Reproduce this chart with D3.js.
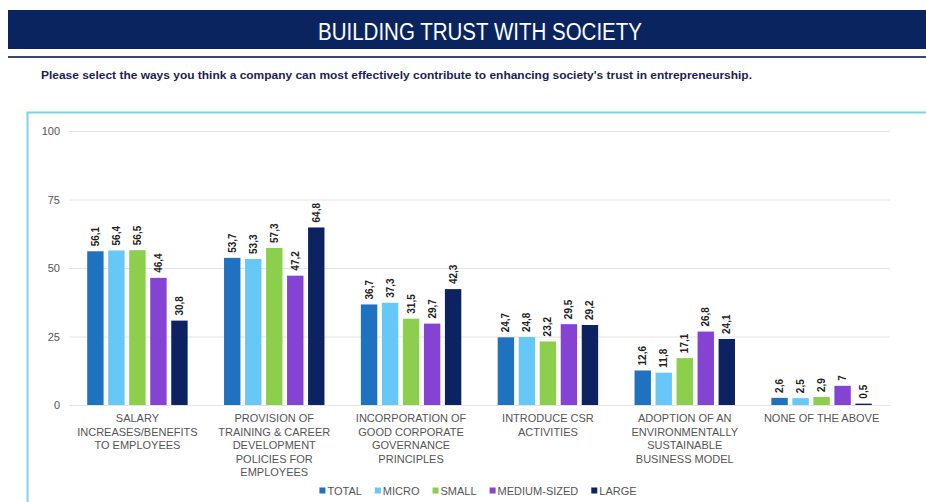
<!DOCTYPE html>
<html>
<head>
<meta charset="utf-8">
<script src="https://cdn.jsdelivr.net/npm/d3@7/dist/d3.min.js"></script>
<style>
  html, body { margin: 0; padding: 0; background: #ffffff; }
  svg { display: block; font-family: "Liberation Sans", Arial, sans-serif; }
</style>
</head>
<body>
<svg id="chart" width="926" height="502"></svg>
<script>
// Answer options (x-axis groups), one label line per array entry
const categories = [
  ["SALARY", "INCREASES/BENEFITS", "TO EMPLOYEES"],
  ["PROVISION OF", "TRAINING & CAREER", "DEVELOPMENT", "POLICIES FOR", "EMPLOYEES"],
  ["INCORPORATION OF", "GOOD CORPORATE", "GOVERNANCE", "PRINCIPLES"],
  ["INTRODUCE CSR", "ACTIVITIES"],
  ["ADOPTION OF AN", "ENVIRONMENTALLY", "SUSTAINABLE", "BUSINESS MODEL"],
  ["NONE OF THE ABOVE"]
];

// Company-size series
const seriesNames = ["TOTAL", "MICRO", "SMALL", "MEDIUM-SIZED", "LARGE"];
const seriesColors = ["#1f72bf", "#66c8f6", "#8ccf4d", "#8543d3", "#0d2260"];

// Share of respondents (%) per series, in category order
const totalValues  = [56.1, 53.7, 36.7, 24.7, 12.6, 2.6];
const microValues  = [56.4, 53.3, 37.3, 24.8, 11.8, 2.5];
const smallValues  = [56.5, 57.3, 31.5, 23.2, 17.1, 2.9];
const mediumValues = [46.4, 47.2, 29.7, 29.5, 26.8, 7];
const largeValues  = [30.8, 64.8, 42.3, 29.2, 24.1, 0.5];
const seriesValues = [totalValues, microValues, smallValues, mediumValues, largeValues];

const yTicks = [0, 25, 50, 75, 100];

const titleText = "BUILDING TRUST WITH SOCIETY";
const questionText = "Please select the ways you think a company can most effectively contribute to enhancing society's trust in entrepreneurship.";

const svg = d3.select("#chart");

// Header band
svg.append("rect").attr("x", 8).attr("y", 10).attr("width", 918).attr("height", 39).attr("fill", "#0a245f");
svg.append("text")
  .attr("x", 480).attr("y", 40)
  .attr("text-anchor", "middle")
  .attr("fill", "#ffffff")
  .attr("font-size", 23)
  .attr("font-family", "'Liberation Sans Narrow', 'Arial Narrow', 'Liberation Sans', sans-serif")
  .attr("textLength", 324).attr("lengthAdjust", "spacingAndGlyphs")
  .text(titleText);

// Separator rule under the header
svg.append("rect").attr("x", 8).attr("y", 56).attr("width", 918).attr("height", 2).attr("fill", "#3b4866");

// Question line
svg.append("text")
  .attr("x", 41).attr("y", 79)
  .attr("fill", "#1b1f55")
  .attr("font-size", 11)
  .attr("font-weight", "bold")
  .attr("textLength", 711).attr("lengthAdjust", "spacingAndGlyphs")
  .text(questionText);

// Chart frame (runs off the right and bottom edges)
svg.append("path")
  .attr("d", "M27.5,502 L27.5,112.5 L926,112.5")
  .attr("fill", "none").attr("stroke", "#7fd3e6").attr("stroke-width", 2);

// Scales
const plotLeft = 69, plotRight = 890;
const y = d3.scaleLinear().domain([0, 100]).range([405, 131]);
const x0 = d3.scaleBand()
  .domain(d3.range(categories.length))
  .range([plotLeft, plotRight])
  .paddingInner(0.266).paddingOuter(0.133);
const x1 = d3.scaleBand()
  .domain(d3.range(seriesNames.length))
  .range([0, x0.bandwidth()])
  .paddingInner(0.22).paddingOuter(0);

// Y axis with gridlines
const yAxis = d3.axisLeft(y).tickValues(yTicks).tickSize(-(plotRight - plotLeft)).tickPadding(9);
const gy = svg.append("g").attr("transform", `translate(${plotLeft},0)`).call(yAxis);
gy.select(".domain").remove();
gy.selectAll(".tick line").attr("stroke", "#e4e4e4").attr("stroke-width", 1);
gy.selectAll(".tick text")
  .attr("fill", "#555555").attr("font-size", 11)
  .attr("font-family", "'Liberation Sans', Arial, sans-serif");

// Bars
const groups = svg.append("g").selectAll("g")
  .data(categories.map((c, i) => i))
  .join("g")
  .attr("transform", i => `translate(${x0(i)},0)`);

const fmt = v => String(v).replace(".", ",");

groups.selectAll("rect")
  .data(i => seriesValues.map((vals, s) => ({ s, v: vals[i] })))
  .join("rect")
  .attr("x", d => x1(d.s))
  .attr("y", d => y(d.v))
  .attr("width", x1.bandwidth())
  .attr("height", d => y(0) - y(d.v))
  .attr("fill", d => seriesColors[d.s]);

// Rotated value labels above each bar
groups.selectAll("text.val")
  .data(i => seriesValues.map((vals, s) => ({ s, v: vals[i] })))
  .join("text")
  .attr("class", "val")
  .attr("transform", d => `translate(${x1(d.s) + x1.bandwidth() / 2 + 3.5},${y(d.v) - 5}) rotate(-90)`)
  .attr("fill", "#222222")
  .attr("font-size", 10)
  .attr("font-weight", "bold")
  .text(d => fmt(d.v));

// Category labels under each group
const catLabels = svg.append("g").selectAll("text")
  .data(categories)
  .join("text")
  .attr("x", (d, i) => x0(i) + x0.bandwidth() / 2)
  .attr("y", 422)
  .attr("text-anchor", "middle")
  .attr("fill", "#555555")
  .attr("font-size", 11);
catLabels.selectAll("tspan")
  .data((d, i) => d.map(line => ({ line, i })))
  .join("tspan")
  .attr("x", d => x0(d.i) + x0.bandwidth() / 2)
  .attr("dy", (d, j) => j === 0 ? 0 : 13.5)
  .text(d => d.line);

// Legend
const legend = svg.append("g");
let cursor = 0;
seriesNames.forEach((name, i) => {
  const g = legend.append("g");
  g.append("rect").attr("x", 0).attr("y", -3.5).attr("width", 6).attr("height", 6).attr("fill", seriesColors[i]);
  const t = g.append("text").attr("x", 8).attr("y", 4).attr("fill", "#555555").attr("font-size", 11).text(name);
  const w = 8 + t.node().getComputedTextLength();
  g.attr("transform", `translate(${cursor},0)`);
  cursor += w + 13;
});
const legendWidth = cursor - 13;
legend.attr("transform", `translate(${478 - legendWidth / 2},491)`);
</script>
</body>
</html>
